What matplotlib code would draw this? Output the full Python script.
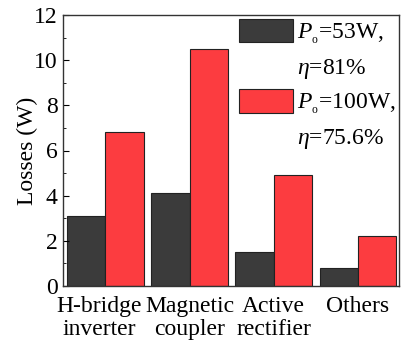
import numpy as np
import matplotlib.pyplot as plt
import matplotlib.transforms as mtransforms
from matplotlib.patches import Patch
from matplotlib.ticker import MultipleLocator

plt.rcParams['font.family'] = ['Liberation Serif', 'DejaVu Serif']
plt.rcParams['mathtext.fontset'] = 'custom'
plt.rcParams['mathtext.rm'] = 'Liberation Serif'
plt.rcParams['mathtext.it'] = 'Liberation Serif:italic'

# loss breakdown per stage
categories = ["H-bridge\ninverter", "Magnetic\ncoupler", "Active\nrectifier", "Others"]
losses_53w = [3.1, 4.1, 1.5, 0.8]
losses_100w = [6.8, 10.5, 4.9, 2.2]
label_lines = [r"$P_{_\mathrm{o}}$=53W,", r"$\eta$=81%",
               r"$P_{_\mathrm{o}}$=100W,", r"$\eta$=75.6%"]
dark, red = '#3b3b3b', '#fc3c40'

fig = plt.figure(figsize=(4.01, 3.45), dpi=100)
ax = fig.add_axes([63 / 401, 59 / 345, 336 / 401, 271 / 345])

x = np.arange(len(categories))
w = 0.455
ax.bar(x - w / 2, losses_53w, w, color=dark, edgecolor='#222222', linewidth=0.8)
ax.bar(x + w / 2, losses_100w, w, color=red, edgecolor='#222222', linewidth=0.8)

ax.set_xlim(-0.505, 3.49)
ax.set_ylim(0, 12)
ax.yaxis.set_major_locator(MultipleLocator(2))
ax.yaxis.set_minor_locator(MultipleLocator(1))
ax.tick_params(axis='y', which='both', direction='in', labelsize=17, pad=4)
ax.tick_params(axis='y', which='major', length=4)
ax.tick_params(axis='y', which='minor', length=2)
ax.set_xticks(x)
ax.set_xticklabels(categories, fontsize=17, linespacing=1.15)
ax.tick_params(axis='x', length=0, pad=7)
# nudge the first label left so it clears its neighbour
first = ax.get_xticklabels()[0]
first.set_transform(first.get_transform() + mtransforms.ScaledTranslation(-6 / 100, 0, fig.dpi_scale_trans))
ax.set_ylabel("Losses (W)", fontsize=17, labelpad=-3)
for s in ax.spines.values():
    s.set_linewidth(1.0)
    s.set_color('#333333')

# one row per text line; the second line of each entry has no swatch
blank = Patch(facecolor='none', edgecolor='none')
handles = [Patch(facecolor=dark, edgecolor='#222222', linewidth=0.8), blank,
           Patch(facecolor=red, edgecolor='#222222', linewidth=0.8), blank]
ax.legend(handles, label_lines, loc='upper right', frameon=False, fontsize=17,
          handlelength=2.3, handleheight=1.15, handletextpad=0.15,
          labelspacing=0.35, borderaxespad=0.05, borderpad=0.1)

fig.savefig('out.png', dpi=100)
